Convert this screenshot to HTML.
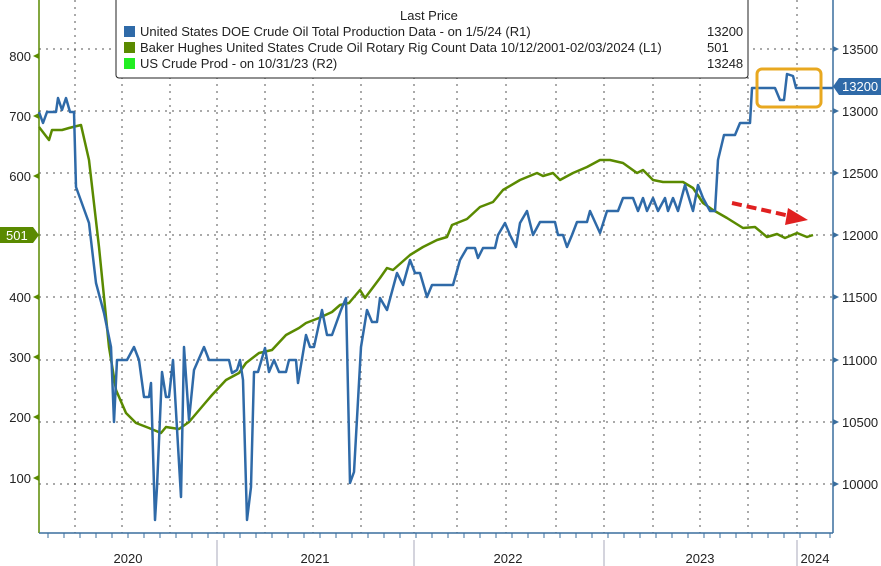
<!DOCTYPE html>
<html><head><meta charset="utf-8"><style>
html,body{margin:0;padding:0;background:#fff;}
svg{display:block;font-family:"Liberation Sans",sans-serif;}
</style></head><body>
<svg width="881" height="566" viewBox="0 0 881 566" xmlns="http://www.w3.org/2000/svg">
<rect width="881" height="566" fill="#fff"/>
<g stroke="#555" stroke-width="1" stroke-dasharray="2,5">
<line x1="39" y1="49" x2="833" y2="49"/><line x1="39" y1="111" x2="833" y2="111"/>
<line x1="39" y1="173" x2="833" y2="173"/><line x1="39" y1="235" x2="833" y2="235"/>
<line x1="39" y1="297" x2="833" y2="297"/><line x1="39" y1="360" x2="833" y2="360"/>
<line x1="39" y1="422" x2="833" y2="422"/><line x1="39" y1="484" x2="833" y2="484"/>
<line x1="75" y1="0" x2="75" y2="533"/><line x1="122" y1="0" x2="122" y2="533"/>
<line x1="170" y1="0" x2="170" y2="533"/><line x1="217" y1="0" x2="217" y2="533"/>
<line x1="265" y1="0" x2="265" y2="533"/><line x1="313" y1="0" x2="313" y2="533"/>
<line x1="361" y1="0" x2="361" y2="533"/><line x1="414" y1="0" x2="414" y2="533"/>
<line x1="457" y1="0" x2="457" y2="533"/><line x1="506" y1="0" x2="506" y2="533"/>
<line x1="556" y1="0" x2="556" y2="533"/><line x1="604" y1="0" x2="604" y2="533"/>
<line x1="653" y1="0" x2="653" y2="533"/><line x1="700" y1="0" x2="700" y2="533"/>
<line x1="748" y1="0" x2="748" y2="533"/><line x1="797" y1="0" x2="797" y2="533"/>
</g>
<line x1="39" y1="0" x2="39" y2="533" stroke="#5a8a00" stroke-width="1.5"/>
<line x1="833" y1="0" x2="833" y2="533" stroke="#3a6e9e" stroke-width="1.5"/>
<line x1="39" y1="533" x2="833" y2="533" stroke="#3a6e9e" stroke-width="1.5"/>
<g fill="#5a8a00">
<polygon points="33,56 39,53 39,59"/><polygon points="33,116 39,113 39,119"/><polygon points="33,176 39,173 39,179"/>
<polygon points="33,297 39,294 39,300"/><polygon points="33,357 39,354 39,360"/><polygon points="33,417 39,414 39,420"/><polygon points="33,478 39,475 39,481"/>
</g>
<g fill="#3a6e9e">
<polygon points="839,49 833,46 833,52"/><polygon points="839,111 833,108 833,114"/><polygon points="839,173 833,170 833,176"/>
<polygon points="839,235 833,232 833,238"/><polygon points="839,297 833,294 833,300"/><polygon points="839,360 833,357 833,363"/>
<polygon points="839,422 833,419 833,425"/><polygon points="839,484 833,481 833,487"/>
</g>
<g font-size="13" fill="#222" text-anchor="end">
<text x="31" y="61">800</text><text x="31" y="121">700</text><text x="31" y="181">600</text>
<text x="31" y="302">400</text><text x="31" y="362">300</text><text x="31" y="422">200</text><text x="31" y="483">100</text>
</g>
<g font-size="13" fill="#222">
<text x="842" y="54">13500</text><text x="842" y="116">13000</text><text x="842" y="178">12500</text>
<text x="842" y="240">12000</text><text x="842" y="302">11500</text><text x="842" y="365">11000</text>
<text x="842" y="427">10500</text><text x="842" y="489">10000</text>
</g>
<g stroke="#3a6e9e" stroke-width="1">
<path d="M48 533v5M64 533v5M80 533v5M96 533v5M112 533v5M128 533v5M144 533v5M160 533v5M176 533v5M192 533v5M208 533v5M224 533v5M240 533v5M256 533v5M272 533v5M288 533v5M304 533v5M320 533v5M336 533v5M352 533v5M368 533v5M384 533v5M400 533v5M416 533v5M432 533v5M448 533v5M464 533v5M480 533v5M496 533v5M512 533v5M528 533v5M544 533v5M560 533v5M576 533v5M592 533v5M608 533v5M624 533v5M640 533v5M656 533v5M672 533v5M688 533v5M704 533v5M720 533v5M736 533v5M752 533v5M768 533v5M784 533v5M800 533v5M816 533v5M830 533v5"/>
</g>
<g stroke="#aab" stroke-width="1"><line x1="217" y1="540" x2="217" y2="566"/><line x1="414" y1="540" x2="414" y2="566"/><line x1="604" y1="540" x2="604" y2="566"/><line x1="797" y1="540" x2="797" y2="566"/></g>
<g font-size="13" fill="#222" text-anchor="middle">
<text x="128" y="563">2020</text><text x="315" y="563">2021</text><text x="508" y="563">2022</text><text x="700" y="563">2023</text><text x="815" y="563">2024</text>
</g>
<polyline fill="none" stroke="#5a8a00" stroke-width="2.5" stroke-linejoin="round" points="39,127 49,140 52,130 62,130 69,128 81,125 89,160 99,247 109,347 116,390 126,413 136,423 149,428 161,433 166,427 179,429 189,422 206,402 212,395 226,380 239,373 246,363 259,353 272,350 286,335 299,328 306,323 319,318 332,312 340,305 349,303 360,290 365,298 380,278 387,268 393,270 410,255 423,247 437,240 447,237 452,225 467,219 480,207 493,202 503,190 520,180 537,173 543,176 553,173 560,180 573,173 587,167 600,160 610,160 623,163 637,173 643,170 653,180 663,182 683,182 693,188 703,203 713,210 727,218 743,228 755,227 767,237 777,234 785,238 797,233 807,237 813,235"/>
<polyline fill="none" stroke="#2f6aa8" stroke-width="2.5" stroke-linejoin="round" points="39,112 43,123 47,112 56,112 58,98 62,110 66,98 70,112 74,112 76,187 89,223 96,283 104,313 111,347 114,422 117,360 127,360 134,347 139,360 144,397 149,397 151,383 155,520 157,487 162,372 166,397 169,397 173,360 181,497 184,347 189,420 194,370 204,347 209,360 229,360 232,373 237,370 240,360 243,380 247,520 251,487 254,372 258,372 265,348 269,372 274,360 279,372 286,372 289,360 296,360 298,383 306,335 310,347 314,347 322,310 327,335 332,335 341,310 346,298 350,483 354,472 361,347 367,310 372,322 377,322 380,298 387,310 397,273 403,285 410,260 415,273 420,273 427,297 432,285 453,285 460,260 467,248 475,248 478,258 483,248 495,248 498,235 505,223 510,235 516,247 520,223 527,211 533,235 540,222 555,222 558,235 563,235 567,247 572,235 577,222 587,222 590,211 595,222 600,233 607,211 618,211 623,198 633,198 638,211 643,198 647,211 653,198 658,211 665,198 668,211 673,198 678,211 685,185 689,198 693,211 698,185 703,198 710,211 715,211 718,160 724,135 735,135 740,123 750,123 752,88 775,88 780,100 784,100 787,74 793,76 796,88 833,88"/>
<rect x="757" y="69" width="64" height="38" rx="5" fill="none" stroke="#e8a820" stroke-width="3"/>
<line x1="732" y1="203" x2="790" y2="216" stroke="#e02020" stroke-width="4" stroke-dasharray="10,5"/>
<polygon points="808,220 788,208 785,225" fill="#e02020"/>
<polygon points="0,227 33,227 39,235 33,243 0,243" fill="#5a8a00"/>
<text x="6" y="240" font-size="13" fill="#fff">501</text>
<polygon points="839,78 881,78 881,95 839,95 833,86.5" fill="#2f6aa8"/>
<text x="842" y="91" font-size="13" fill="#fff">13200</text>
<rect x="116" y="-3" width="632" height="81" rx="3" fill="#fff" stroke="#222" stroke-width="1"/>
<g font-size="13" fill="#222">
<text x="400" y="20">Last Price</text>
<rect x="124" y="26" width="11" height="11" fill="#2f6aa8"/>
<text x="140" y="36">United States DOE Crude Oil Total Production Data -  on 1/5/24  (R1)</text>
<rect x="124" y="42" width="11" height="11" fill="#5a8a00"/>
<text x="140" y="52">Baker Hughes United States Crude Oil Rotary Rig Count Data 10/12/2001-02/03/2024   (L1)</text>
<rect x="124" y="58" width="11" height="11" fill="#22ee22"/>
<text x="140" y="68">US Crude Prod -  on 10/31/23  (R2)</text>
<text x="707" y="36">13200</text><text x="707" y="52">501</text><text x="707" y="68">13248</text>
</g>
</svg>
</body></html>
